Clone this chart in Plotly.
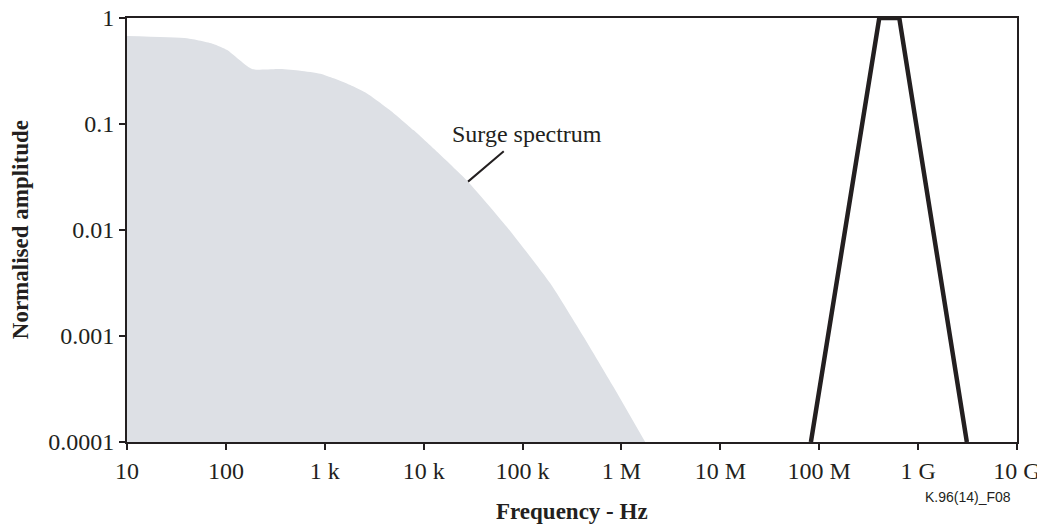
import numpy as np
import plotly.graph_objects as go

# Surge spectrum (frequency in Hz, normalised amplitude)
surge_freq = [10, 40.4, 74.6, 103, 184, 355, 565, 900, 1230, 1810, 2670, 4570, 7940,
              14700, 28100, 69500, 190500, 414000, 832000, 1740000]
surge_amp = [0.676, 0.643, 0.569, 0.499, 0.330, 0.330, 0.318, 0.298, 0.270, 0.233,
             0.194, 0.135, 0.0871, 0.0513, 0.0286, 0.0107, 0.00314, 0.000984,
             0.000331, 0.0001]

# Narrow-band pulse
pulse_freq = [82.4e6, 405e6, 645e6, 3.11e9]
pulse_amp = [0.0001, 1, 1, 0.0001]

x_tickvals = [10, 100, 1e3, 1e4, 1e5, 1e6, 1e7, 1e8, 1e9, 1e10]
x_ticktext = ["10", "100", "1 k", "10 k", "100 k", "1 M", "10 M", "100 M", "1 G", "10 G"]
y_tickvals = [1e-4, 1e-3, 1e-2, 1e-1, 1]
y_ticktext = ["0.0001", "0.001", "0.01", "0.1", "1"]

ink = "#231f20"
serif = "Liberation Serif"
fs = 24

fig = go.Figure()
fig.add_trace(go.Scatter(
    x=surge_freq, y=surge_amp,
    mode="lines", fill="tozeroy", fillcolor="#dde0e5",
    line=dict(width=0, color="#dde0e5", shape="spline", smoothing=0.5),
    hoverinfo="skip", showlegend=False))
fig.add_trace(go.Scatter(
    x=pulse_freq, y=pulse_amp, mode="lines",
    line=dict(color=ink, width=4.5), showlegend=False))

# Leader line from the label to the curve (annotation coords in log units)
k = 14
fig.add_annotation(x=np.log10(surge_freq[k]), y=np.log10(surge_amp[k]),
                   ax=4.825, ay=-1.245, axref="x", ayref="y", xref="x", yref="y",
                   text="", showarrow=True, arrowhead=0, arrowwidth=2, arrowcolor=ink,
                   standoff=0, startstandoff=0)
fig.add_annotation(x=5.04, y=-1.09, xref="x", yref="y", text="Surge spectrum",
                   showarrow=False, font=dict(family=serif, size=fs, color=ink))
fig.add_annotation(x=0.945, y=-0.13, xref="paper", yref="paper", text="K.96(14)_F08",
                   xanchor="center", yanchor="middle", showarrow=False,
                   font=dict(family="Liberation Sans", size=14, color=ink))
# Axis titles
fig.add_annotation(x=-0.12, y=0.5, xref="paper", yref="paper",
                   text="<b>Normalised amplitude</b>", textangle=-90, showarrow=False,
                   xanchor="center", yanchor="middle",
                   font=dict(family=serif, size=fs - 1, color=ink))
fig.add_annotation(x=0.5, y=-0.165, xref="paper", yref="paper",
                   text="<b>Frequency - Hz</b>", showarrow=False,
                   xanchor="center", yanchor="middle",
                   font=dict(family=serif, size=fs - 1, color=ink))

axis_common = dict(showline=True, linecolor=ink, linewidth=2, mirror=True,
                   ticks="outside", ticklen=6, tickwidth=2, tickcolor=ink,
                   showgrid=False, zeroline=False, ticklabeloverflow="allow",
                   tickfont=dict(family=serif, size=fs, color=ink))

fig.update_xaxes(type="log", range=[1, 10], tickvals=x_tickvals, ticktext=x_ticktext,
                 **axis_common)
fig.update_yaxes(type="log", range=[-4, 0], tickvals=y_tickvals, ticktext=y_ticktext,
                 **axis_common)

# The page body adds an 8 px offset, so the figure is 8 px smaller than the window
fig.update_layout(width=1037, height=519, paper_bgcolor="white", plot_bgcolor="white",
                  margin=dict(l=119, r=28, t=10, b=85, autoexpand=False))

fig.write_html("out.html")
